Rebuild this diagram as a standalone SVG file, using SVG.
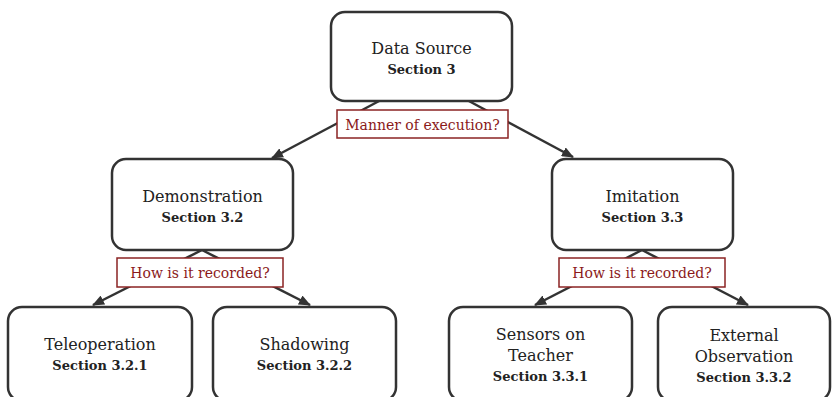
<svg xmlns="http://www.w3.org/2000/svg" width="833" height="397" viewBox="0 0 833 397">
<defs>
<marker id="ah" viewBox="0 0 12 10" refX="11" refY="5" markerWidth="12" markerHeight="10" markerUnits="userSpaceOnUse" orient="auto">
<path d="M0,0 L12,5 L0,10 z" fill="#333"/>
</marker>
<style>
.box{fill:#fff;stroke:#333;stroke-width:2.5}
.lbl{fill:#fff;stroke:#8b2323;stroke-width:1.5}
.t{font-family:"DejaVu Serif","Liberation Serif",serif;font-size:16px;fill:#222;text-anchor:middle}
.s{font-family:"DejaVu Serif","Liberation Serif",serif;font-size:13px;font-weight:bold;fill:#222;text-anchor:middle}
.q{font-family:"DejaVu Serif","Liberation Serif",serif;font-size:14px;fill:#8b1a1a;text-anchor:middle}
.c{stroke:#333;stroke-width:2.5;fill:none;marker-end:url(#ah)}
</style>
</defs>
<rect width="833" height="397" fill="#fff"/>
<g id="connectors">
<line class="c" x1="381" y1="100" x2="272" y2="158"/>
<line class="c" x1="467" y1="100" x2="573" y2="157"/>
<line class="c" x1="202" y1="250" x2="93" y2="305"/>
<line class="c" x1="202" y1="250" x2="310" y2="305"/>
<line class="c" x1="642" y1="250" x2="535" y2="305"/>
<line class="c" x1="642" y1="250" x2="748" y2="305"/>
</g>
<g id="data-source">
<rect class="box" x="331" y="12" width="181" height="89" rx="14"/>
<text class="t" x="421.5" y="54">Data Source</text>
<text class="s" x="421.5" y="74">Section 3</text>
</g>
<g id="label-manner">
<rect class="lbl" x="337" y="110" width="171" height="28"/>
<text class="q" x="422.5" y="130">Manner of execution?</text>
</g>
<g id="demonstration">
<rect class="box" x="112" y="159" width="181" height="91" rx="14"/>
<text class="t" x="202.5" y="201.5">Demonstration</text>
<text class="s" x="202.5" y="221.5">Section 3.2</text>
</g>
<g id="imitation">
<rect class="box" x="552" y="159" width="181" height="91" rx="14"/>
<text class="t" x="642.5" y="201.5">Imitation</text>
<text class="s" x="642.5" y="221.5">Section 3.3</text>
</g>
<g id="label-demo">
<rect class="lbl" x="117" y="258" width="166" height="29"/>
<text class="q" x="200" y="278">How is it recorded?</text>
</g>
<g id="label-imit">
<rect class="lbl" x="559" y="258" width="166" height="29"/>
<text class="q" x="642" y="278">How is it recorded?</text>
</g>
<g id="teleoperation">
<rect class="box" x="8" y="307" width="184" height="94" rx="14"/>
<text class="t" x="100" y="350">Teleoperation</text>
<text class="s" x="100" y="370">Section 3.2.1</text>
</g>
<g id="shadowing">
<rect class="box" x="213" y="307" width="183" height="94" rx="14"/>
<text class="t" x="304.5" y="350">Shadowing</text>
<text class="s" x="304.5" y="370">Section 3.2.2</text>
</g>
<g id="sensors">
<rect class="box" x="449" y="307" width="183" height="94" rx="14"/>
<text class="t" x="540.5" y="340">Sensors on</text>
<text class="t" x="540.5" y="361">Teacher</text>
<text class="s" x="540.5" y="381">Section 3.3.1</text>
</g>
<g id="external">
<rect class="box" x="658" y="307" width="172" height="94" rx="14"/>
<text class="t" x="744" y="341">External</text>
<text class="t" x="744" y="362">Observation</text>
<text class="s" x="744" y="382">Section 3.3.2</text>
</g>
</svg>
